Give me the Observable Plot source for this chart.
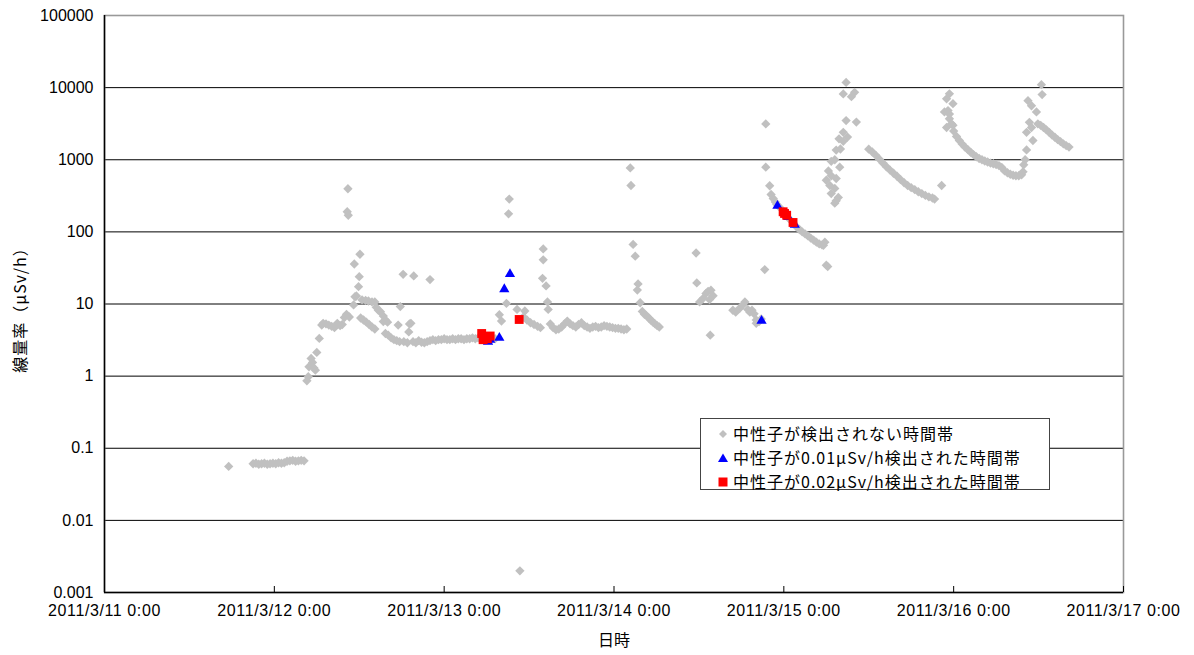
<!DOCTYPE html>
<html>
<head>
<meta charset="utf-8">
<script src="https://cdn.jsdelivr.net/npm/d3@7"></script>
<script src="https://cdn.jsdelivr.net/npm/@observablehq/plot@0.6"></script>
<style>
  html, body { margin: 0; padding: 0; background: #fff; }
  #wrap { position: relative; width: 1194px; height: 655px; overflow: hidden; }
  .lbl { position: absolute; font-family: "Noto Sans CJK JP", sans-serif; font-size: 16px; color: #000; white-space: nowrap; }
  #ylabel { letter-spacing: 1px; }
  #legend { position: absolute; left: 700px; top: 418px; width: 348px; height: 70px; border: 1px solid #444; background: #fff;
            font-family: "Noto Sans CJK JP", sans-serif; font-size: 16px; letter-spacing: 1px; color: #000; }
  #legend .row { position: absolute; left: 0; height: 24px; line-height: 24px; white-space: nowrap; }
  #legend .row svg { position: absolute; left: 16px; top: 7px; }
  #legend .row span { position: absolute; left: 32px; top: 0; }
  #chart svg g[aria-label="x-axis tick label"] text { letter-spacing: 0.6px; }
</style>
</head>
<body>
<div id="wrap">
  <div id="chart"></div>
  <div class="lbl" id="ylabel" style="left:19px; top:306px; transform: translate(-50%,-50%) rotate(-90deg);">線量率（μSv/h）</div>
  <div class="lbl" id="xlabel" style="left:614px; top:639px; transform: translate(-50%,-50%);">日時</div>
  <div id="legend"></div>
</div>
<script>
// ---- data: hours elapsed since 2011/3/11 0:00, dose rate (μSv/h) ----
const grayDay1 = [
  [17.55,0.056],
  [21.0,0.061],[21.4,0.062],[21.8,0.060],[22.2,0.061],[22.6,0.062],[23.0,0.060],[23.4,0.061],[23.8,0.062],[24.2,0.061],
  [24.6,0.063],[25.0,0.062],[25.4,0.063],[25.8,0.066],[26.2,0.067],[26.6,0.068],[27.0,0.066],[27.4,0.067],[27.8,0.068],[28.2,0.067],
  [28.6,0.86],[28.8,0.98],[28.9,1.35],[29.2,1.76],[29.4,1.55],[29.6,1.3],[29.8,1.21],[30.0,2.13],[30.35,3.33],[30.7,5.1],
  [30.9,5.4],[31.3,5.3],[31.7,5.1],[32.1,4.9],[32.5,4.7],[32.9,5.4],[33.3,5.0],[33.6,5.2],[33.9,6.5],[34.2,7.2],[34.6,6.6],
  [34.3,190],[34.45,170],[34.4,396],
  [35.2,9.7],[35.3,35.9],[35.4,12.6],[35.6,12.9],[35.9,17.4],[36.0,23.9],[36.1,48.9],[36.4,11.4],[36.9,11.2],[37.3,11.0],[37.8,10.7],[38.2,10.7],
  [36.2,6.4],[36.6,6.0],[37.0,5.6],[37.4,5.2],[37.8,4.8],[38.2,4.5],
  [38.4,9.0],[38.7,8.2],[39.0,7.8],[39.4,6.8],[39.7,6.0],[40.0,5.6],[39.4,5.7],
  [39.7,3.9],[40.1,3.7],[40.5,3.4],[40.9,3.2],[41.3,3.1],[41.7,3.0],
  [41.5,5.1],[41.8,9.2],[42.2,25.8],[43.0,4.1],[43.1,5.3],[43.3,5.4],[43.7,24.5],[46.0,21.8],
  [42.3,3.0],[42.8,2.9],[43.6,3.0],[44.0,2.9],[44.4,3.1],[44.8,2.95],[45.2,2.9],[45.6,3.0],[46.0,3.1],[46.4,3.2],[46.8,3.1],[47.2,3.2]
];
const grayDay2 = [
  [47.6,3.2],[48.0,3.3],[48.4,3.2],[48.8,3.2],[49.2,3.3],[49.6,3.2],[50.0,3.3],[50.4,3.3],[50.8,3.2],[51.2,3.3],[51.6,3.3],
  [52.0,3.4],[52.4,3.3],[52.8,3.4],[53.2,3.3],[53.6,3.4],[54.0,3.3],[54.6,3.2],[55.2,3.3],
  [55.8,7.1],[56.1,5.8],[56.8,10.2],[57.1,178],[57.2,285],[58.3,8.4],[59.4,8.0],
  [59.2,6.6],[59.7,6.0],[60.2,5.5],[60.7,5.2],[61.2,4.9],[61.6,4.7],
  [61.9,22.7],[62.0,58],[62.0,41],[62.4,17.8],[62.6,10.7],[62.7,8.4],
  [63.0,5.3],[63.4,4.7],[63.8,4.4],[64.2,4.5],[64.6,4.8],[65.0,5.3],[65.4,5.8],[65.8,5.3],[66.2,5.0],[66.6,4.8],[67.0,5.2],
  [67.4,5.5],[67.8,5.0],[68.2,4.8],[68.6,4.6],[69.0,4.8],[69.4,4.9],[69.8,4.7],[70.2,4.8],[70.6,5.0],[71.0,4.9],[71.4,4.8],[71.8,4.7],
  [58.7,0.002]
];
const grayDay3 = [
  [72.2,4.6],[72.6,4.6],[73.0,4.5],[73.4,4.4],[73.8,4.5],
  [74.3,770],[74.4,440],[74.7,67],[75.0,46],[75.3,15.6],[75.4,19],[75.7,10.4],
  [76.0,7.9],[76.3,7.2],[76.6,6.9],[76.9,6.4],[77.2,6.0],[77.5,5.6],[77.8,5.3],[78.1,5.0],[78.4,4.8],
  [83.6,51],[83.7,19.6],[84.1,10.7],[84.6,12],[85.0,14],[85.3,15],[85.7,15.5],[86.0,13],[85.5,11.5],[85.6,3.7],
  [88.8,8.2],[89.2,7.7],[89.8,8.8],[90.2,9.7],[90.5,10.7],[90.9,8.4],[91.2,7.7],[91.5,8.2],[91.8,7.3],[92.1,6.0],[92.1,5.4],[92.5,5.7],[92.8,6.2],
  [93.3,30],[93.45,3140],[93.45,790],[94.0,436],[94.2,330],[94.5,290],[94.8,260],[95.0,240],[95.5,215]
];
const grayDay4 = [
  [96.0,185],[96.8,150],[97.3,135],
  [97.8,117],[98.2,108],[98.6,100],[99.0,94],[99.4,88],[99.8,82],[100.2,77],[100.6,72],[101.0,68],[101.4,66],[101.6,65],[101.8,72],[102.0,34.5],[102.2,33],
  [102.0,520],[102.3,700],[102.5,440],[102.7,950],[102.7,600],[102.7,340],[103.2,1000],[103.2,400],[103.2,250],[103.4,1360],[103.4,550],[103.4,270],
  [103.7,300],[103.8,1950],[103.9,790],[104.0,1410],[104.4,2400],[104.4,1800],[104.4,8180],[104.8,11800],[104.8,3490],[105.0,2060],
  [105.55,7500],[106.0,8600],[106.25,3330],
  [108.0,1400],[108.5,1280],[109.0,1150],[109.5,1020],[110.0,900],[110.5,800],[111.0,720],[111.5,650],[112.0,590],[112.5,530],
  [113.0,480],[113.5,440],[114.0,410],[114.5,385],[115.0,360],[115.5,340],[116.0,320],[116.5,305],[117.0,295],[117.3,285],[118.3,440],
  [118.7,4600],[119.0,7000],[119.0,2800],[119.2,4800],[119.4,8200],[119.4,4300],[119.4,3700],[119.7,3150],[119.9,6000],[119.9,3000]
];
const grayDay5 = [
  [120.0,2500],[120.4,2100],[120.8,1850],[121.2,1650],[121.6,1500],[122.0,1380],[122.4,1270],[122.8,1180],[123.2,1100],[123.6,1040],
  [124.0,1000],[124.4,960],[124.8,930],[125.2,900],[125.6,880],[126.0,860],[126.4,830],[126.8,780],[127.2,700],[127.6,660],
  [128.0,630],[128.4,610],[128.8,600],[129.2,600],[129.6,620],[129.8,680],[129.9,850],[130.1,1000],[130.3,1370],
  [130.3,2400],[130.5,6600],[130.7,3300],[131.0,5600],[131.0,2800],[131.2,1850],[131.7,4600],[131.9,3150],[132.4,11000],[132.5,8000],
  [132.3,3000],[132.7,2800],[133.1,2600],[133.5,2400],[133.9,2200],[134.3,2050],[134.7,1900],[135.1,1780],[135.5,1660],[135.9,1570],[136.3,1500]
];
const blue001 = [[54.2,3.0],[54.5,3.2],[55.8,3.4],[56.5,16],[57.3,26],[92.85,5.85],[95.1,230],[96.6,160],[97.55,125]];
const red002 = [[53.3,3.9],[53.5,3.2],[53.9,3.5],[54.1,3.3],[54.5,3.6],[58.6,6.1],[95.9,190],[96.1,180],[96.4,170],[97.3,135]];

const dayLabels = ["2011/3/11 0:00","2011/3/12 0:00","2011/3/13 0:00","2011/3/14 0:00","2011/3/15 0:00","2011/3/16 0:00","2011/3/17 0:00"];
const dayStarts = ["2011-03-11","2011-03-12","2011-03-13","2011-03-14","2011-03-15","2011-03-16","2011-03-17"];
const yTicks = [0.001, 0.01, 0.1, 1, 10, 100, 1000, 10000, 100000];
const yTickLabels = ["0.001","0.01","0.1","1","10","100","1000","10000","100000"];
const seriesNames = ["中性子が検出されない時間帯","中性子が0.01μSv/h検出された時間帯","中性子が0.02μSv/h検出された時間帯"];
const seriesColors = ["#c0c0c0","#0000ff","#ff0000"];

// ---- build ----
const base = Date.UTC(2011, 2, 11);
const toRow = ([h, v]) => ({t: new Date(base + h * 3600e3), v});
const gray = [...grayDay1, ...grayDay2, ...grayDay3, ...grayDay4, ...grayDay5].map(toRow);
const blue = blue001.map(toRow);
const red = red002.map(toRow);
const days = dayStarts.map(s => new Date(s + "T00:00:00Z"));
const dayLabelOf = new Map(days.map((d, i) => [+d, dayLabels[i]]));
const yLabelOf = new Map(yTicks.map((d, i) => [d, yTickLabels[i]]));
const gridVals = yTicks.slice(1, -1);

const chart = Plot.plot({
  width: 1194,
  height: 655,
  marginLeft: 104,
  marginRight: 71,
  marginTop: 15,
  marginBottom: 63,
  style: {fontFamily: "'Liberation Sans', Arial, sans-serif", fontSize: "16px", background: "#fff", color: "#000"},
  x: {type: "utc", domain: [days[0], days[days.length - 1]]},
  y: {type: "log", domain: [yTicks[0], yTicks[yTicks.length - 1]]},
  marks: [
    Plot.gridY(gridVals, {stroke: "#000", strokeOpacity: 1, strokeWidth: 1}),
    Plot.frame({stroke: "#999", strokeWidth: 1.6}),
    Plot.ruleY([yTicks[0]], {stroke: "#000", strokeWidth: 1.5}),
    Plot.ruleX([days[0]], {stroke: "#000", strokeWidth: 1.5}),
    Plot.tickX(days, {x: d => d, insetTop: 571, stroke: "#000", strokeWidth: 1}),
    Plot.axisY(yTicks, {tickSize: 0, tickPadding: 11, fontSize: 16, tickFormat: d => yLabelOf.get(d), label: null}),
    Plot.axisX(days, {tickSize: 0, tickPadding: 12, fontSize: 16, tickFormat: d => dayLabelOf.get(+d), label: null}),
    Plot.dot(gray, {x: "t", y: "v", symbol: "diamond2", r: 4.2, fill: seriesColors[0]}),
    Plot.dot(blue, {x: "t", y: "v", symbol: "triangle", r: 3.8, fill: seriesColors[1]}),
    Plot.dot(red, {x: "t", y: "v", symbol: "square", r: 5, fill: seriesColors[2]})
  ]
});
document.getElementById("chart").appendChild(chart);

// ---- legend ----
const markers = [
  '<svg width="12" height="12" viewBox="-6 -6 12 12"><path d="M0,-4L4,0L0,4L-4,0Z" fill="#c0c0c0"/></svg>',
  '<svg width="12" height="12" viewBox="-6 -6 12 12"><path d="M0,-4.5L5,4L-5,4Z" fill="#0000ff"/></svg>',
  '<svg width="12" height="12" viewBox="-6 -6 12 12"><rect x="-4.5" y="-4.5" width="9" height="9" fill="#ff0000"/></svg>'
];
const legend = document.getElementById("legend");
seriesNames.forEach((name, i) => {
  const row = document.createElement("div");
  row.className = "row";
  row.style.top = (2 + i * 24) + "px";
  row.innerHTML = markers[i] + "<span></span>";
  row.querySelector("span").textContent = name;
  legend.appendChild(row);
});
</script>
</body>
</html>
